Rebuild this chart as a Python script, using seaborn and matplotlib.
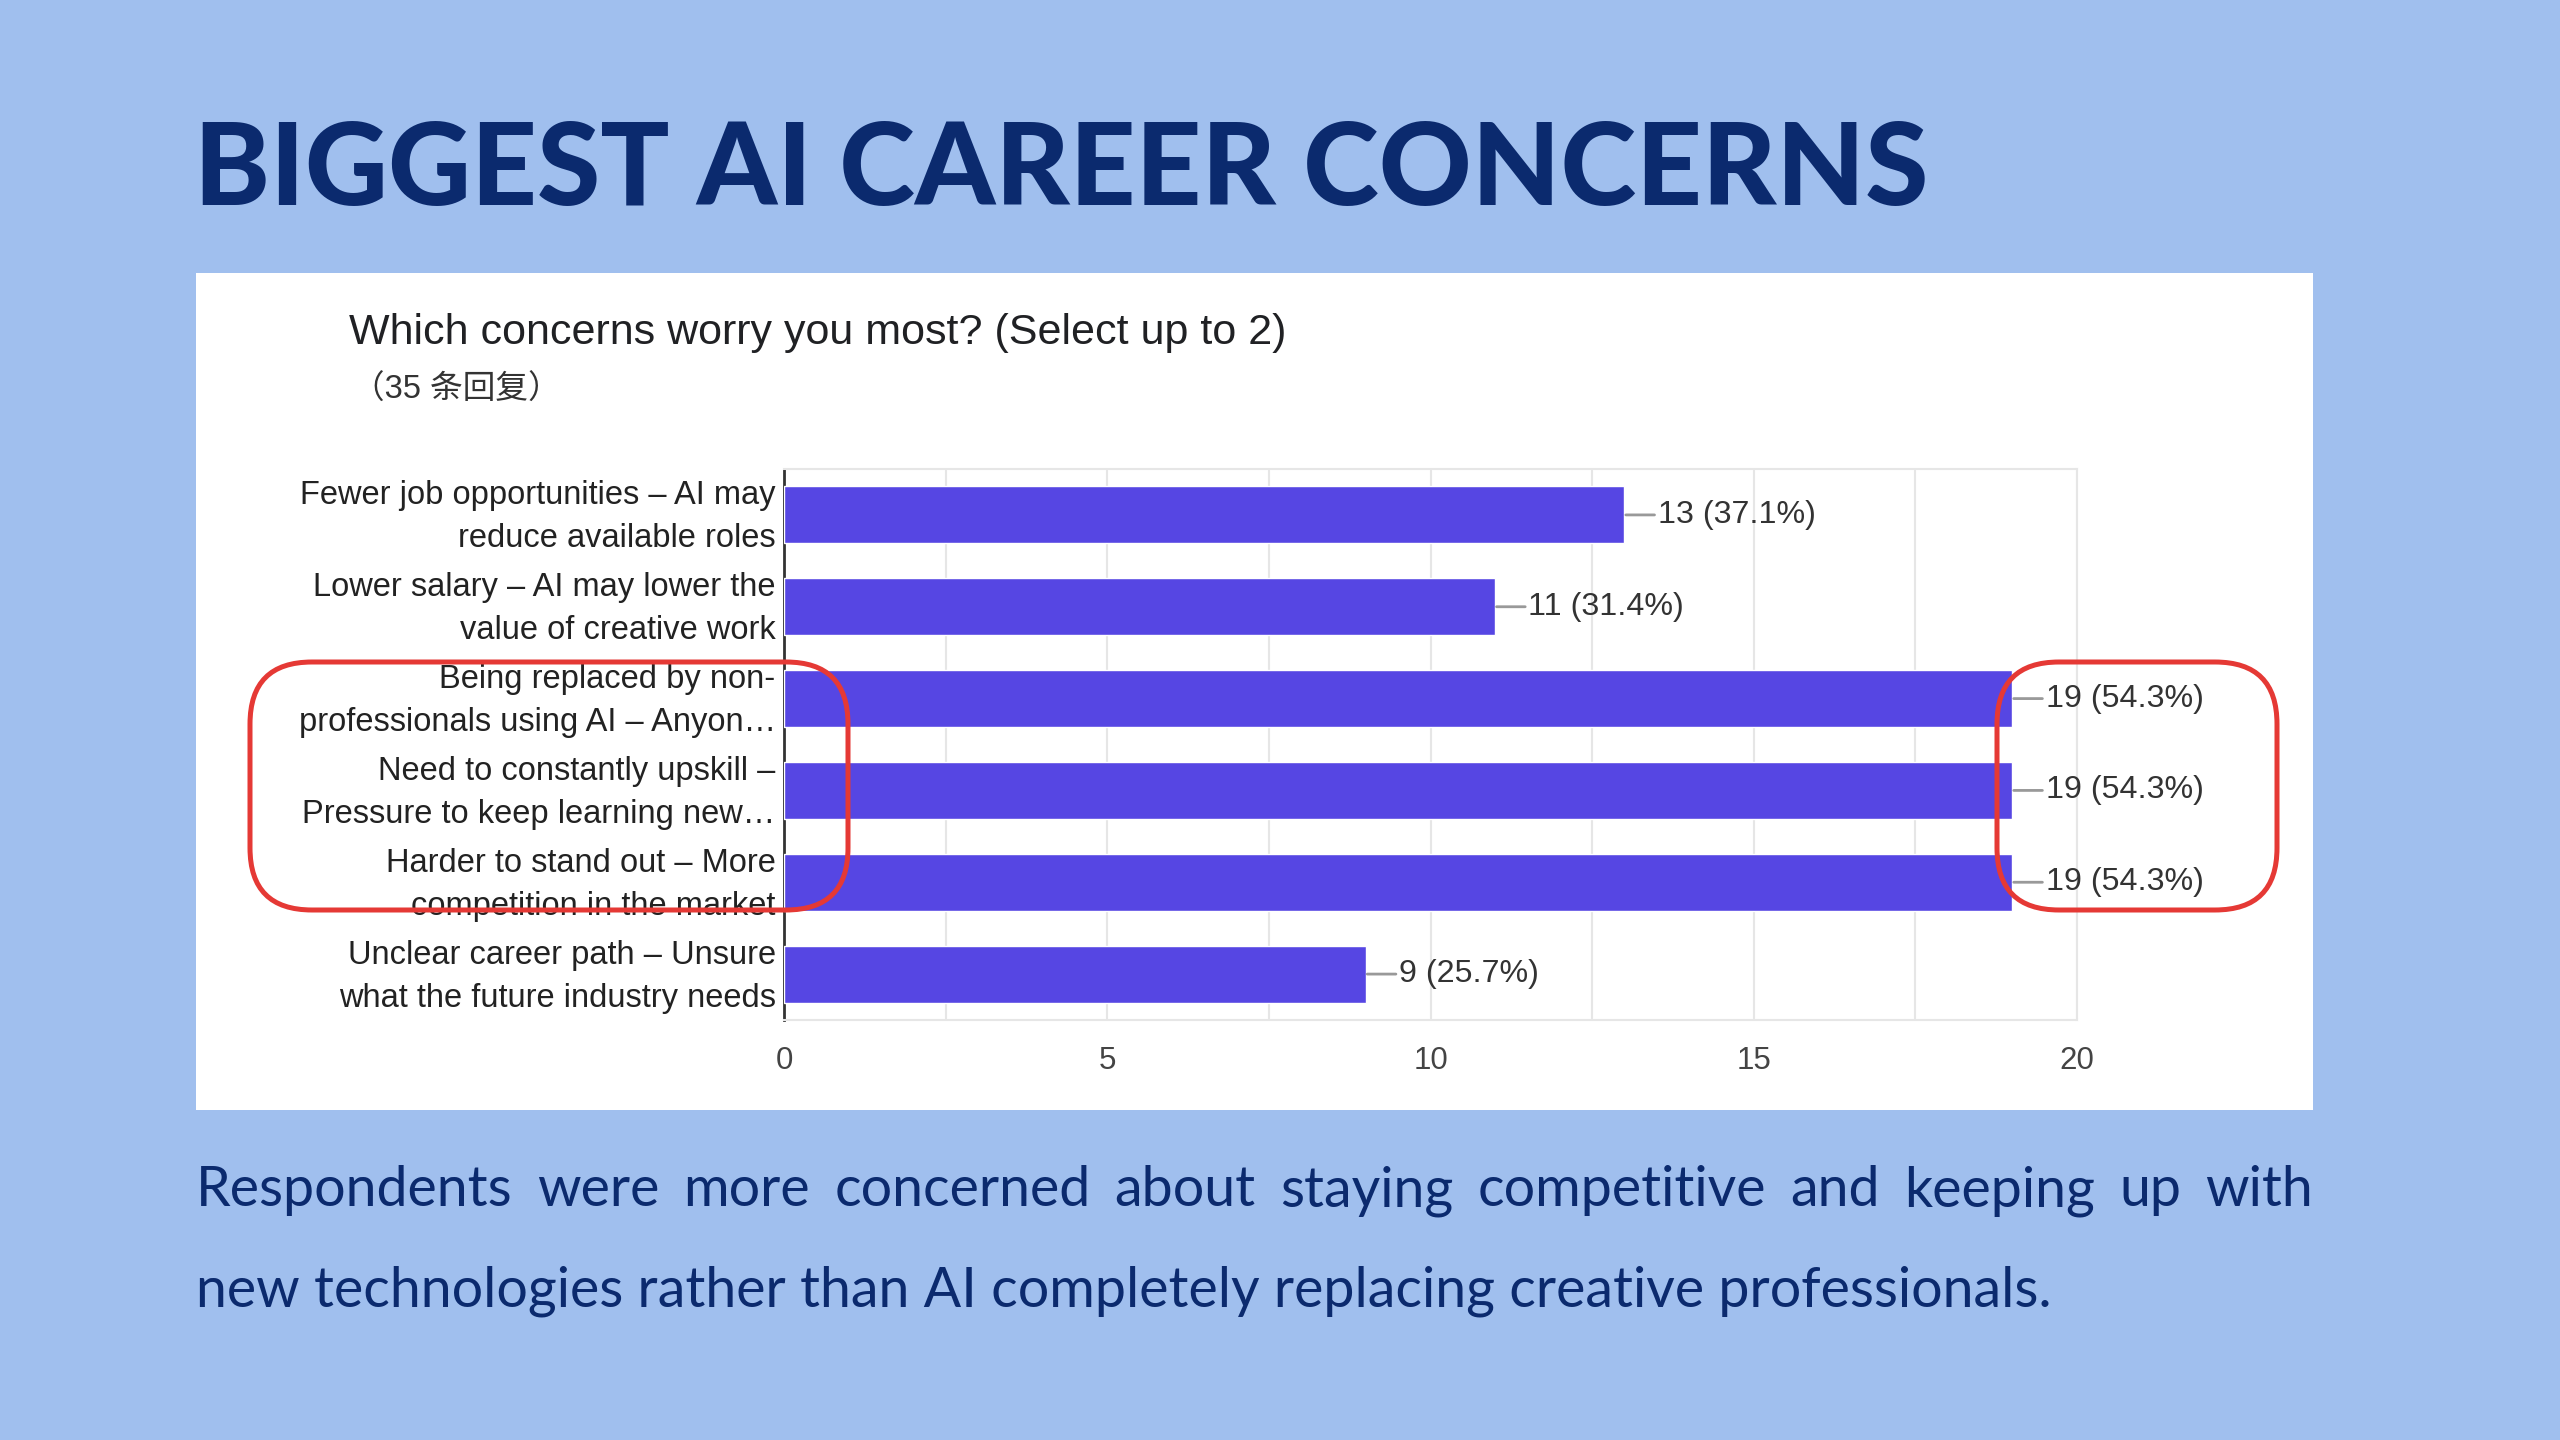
import matplotlib
matplotlib.use("Agg")
import matplotlib.pyplot as plt
import matplotlib.transforms as mtransforms
import seaborn as sns
import pandas as pd
from matplotlib.patches import FancyBboxPatch, Rectangle

# ---------------- data ----------------
categories = [
    "Fewer job opportunities – AI may\nreduce available roles",
    "Lower salary – AI may lower the\nvalue of creative work",
    "Being replaced by non-\nprofessionals using AI – Anyon…",
    "Need to constantly upskill –\nPressure to keep learning new…",
    "Harder to stand out – More\ncompetition in the market",
    "Unclear career path – Unsure\nwhat the future industry needs",
]
counts = [13, 11, 19, 19, 19, 9]
percents = [37.1, 31.4, 54.3, 54.3, 54.3, 25.7]
x_ticks = [0, 5, 10, 15, 20]

title = "BIGGEST AI CAREER CONCERNS"
question = "Which concerns worry you most? (Select up to 2)"
responses = "（35 条回复）"
summary_line1 = "Respondents were more concerned about staying competitive and keeping up with"
summary_line2 = "new technologies rather than AI completely replacing creative professionals."

df = pd.DataFrame({"category": categories, "count": counts})

# ---------------- style ----------------
BG = "#a0bfee"
NAVY = "#0b2a6e"
BAR = "#5646e3"
RED = "#e53935"

sns.set_theme(style="white")
plt.rcParams["font.family"] = ["Liberation Sans", "Noto Sans CJK SC", "DejaVu Sans"]

W, H = 2560, 1440
fig = plt.figure(figsize=(25.6, 14.4), dpi=100, facecolor=BG)

# background canvas in pixel coordinates
bg = fig.add_axes([0, 0, 1, 1], zorder=0)
bg.set_xlim(0, W)
bg.set_ylim(H, 0)
bg.axis("off")
bg.add_patch(Rectangle((196, 273), 2117, 837, facecolor="white", edgecolor="none"))

# ---------------- chart ----------------
ax = fig.add_axes([784 / W, 1 - 1020 / H, (2077 - 784) / W, (1020 - 469) / H], zorder=2)
ax.set_facecolor("white")
sns.barplot(data=df, y="category", x="count", orient="h", color=BAR,
            saturation=1, width=0.62, ax=ax, zorder=3)
ax.set_xlim(0, 20)
ax.set_ylim(5.5, -0.5)
ax.set_xticks(x_ticks)
ax.set_xticks([2.5, 7.5, 12.5, 17.5], minor=True)
ax.grid(axis="x", which="both", color="#e6e6e6", lw=1.5, zorder=0)
ax.set_axisbelow(True)
ax.set_xlabel("")
ax.set_ylabel("")
ax.tick_params(axis="both", which="both", length=0)
ax.tick_params(axis="x", labelsize=22.5, labelcolor="#444444", pad=19)
ax.tick_params(axis="y", labelsize=23.5, labelcolor="#222222", pad=6)
ax.spines["left"].set_color("#333333")
ax.spines["left"].set_linewidth(2)
for s in ["top", "right", "bottom"]:
    ax.spines[s].set_color("#e6e6e6")
    ax.spines[s].set_linewidth(1.5)

up = mtransforms.ScaledTranslation(0, 7 / 100, fig.dpi_scale_trans)
for tick in ax.yaxis.get_major_ticks():
    lab = tick.label1
    lab.set_horizontalalignment("right")
    lab.set_linespacing(1.5)
    lab.set_transform(lab.get_transform() + up)

for i, (c, p) in enumerate(zip(counts, percents)):
    ax.annotate(f"{c} ({p}%)", xy=(c, i), xytext=(24, 0), textcoords="offset points",
                ha="left", va="center", fontsize=23.2, color="#333333",
                arrowprops=dict(arrowstyle="-", color="#999999", lw=2,
                                shrinkA=0, shrinkB=1), zorder=5)

# ---------------- overlay (titles, highlight boxes, summary) ----------------
fg = fig.add_axes([0, 0, 1, 1], zorder=5)
fg.set_xlim(0, W)
fg.set_ylim(H, 0)
fg.axis("off")
fg.patch.set_alpha(0)

fg.text(194, 172, title, fontsize=82.5, fontweight="black", color=NAVY,
        family=["Lato", "DejaVu Sans"], ha="left", va="center")
fg.text(349, 333, question, fontsize=31, color="#202124", ha="left", va="center")
fg.text(352, 390, responses, fontsize=23.5, color="#333333", ha="left", va="center",
        family=["Liberation Sans", "Noto Sans CJK SC"])

for (x0, y0, w, h) in [(250, 662, 598, 248), (1997, 662, 280, 248)]:
    fg.add_patch(FancyBboxPatch((x0, y0), w, h, boxstyle="round,pad=0,rounding_size=62",
                                facecolor="none", edgecolor=RED, lw=3.6))

# justified summary text
renderer = fig.canvas.get_renderer()
words = summary_line1.split(" ")
tobjs = []
for wd in words:
    t = fg.text(0, 1191, wd, fontsize=40, color=NAVY, family=["Lato", "DejaVu Sans"],
                ha="left", va="center")
    tobjs.append(t)
widths = [t.get_window_extent(renderer).width for t in tobjs]
left, right = 196, 2313
gap = (right - left - sum(widths)) / (len(words) - 1)
xpos = left
for t, wdt in zip(tobjs, widths):
    t.set_x(xpos)
    xpos += wdt + gap
fg.text(196, 1291, summary_line2, fontsize=40, color=NAVY, family=["Lato", "DejaVu Sans"],
        ha="left", va="center")

fig.savefig("out.png", dpi=100, facecolor=BG)
